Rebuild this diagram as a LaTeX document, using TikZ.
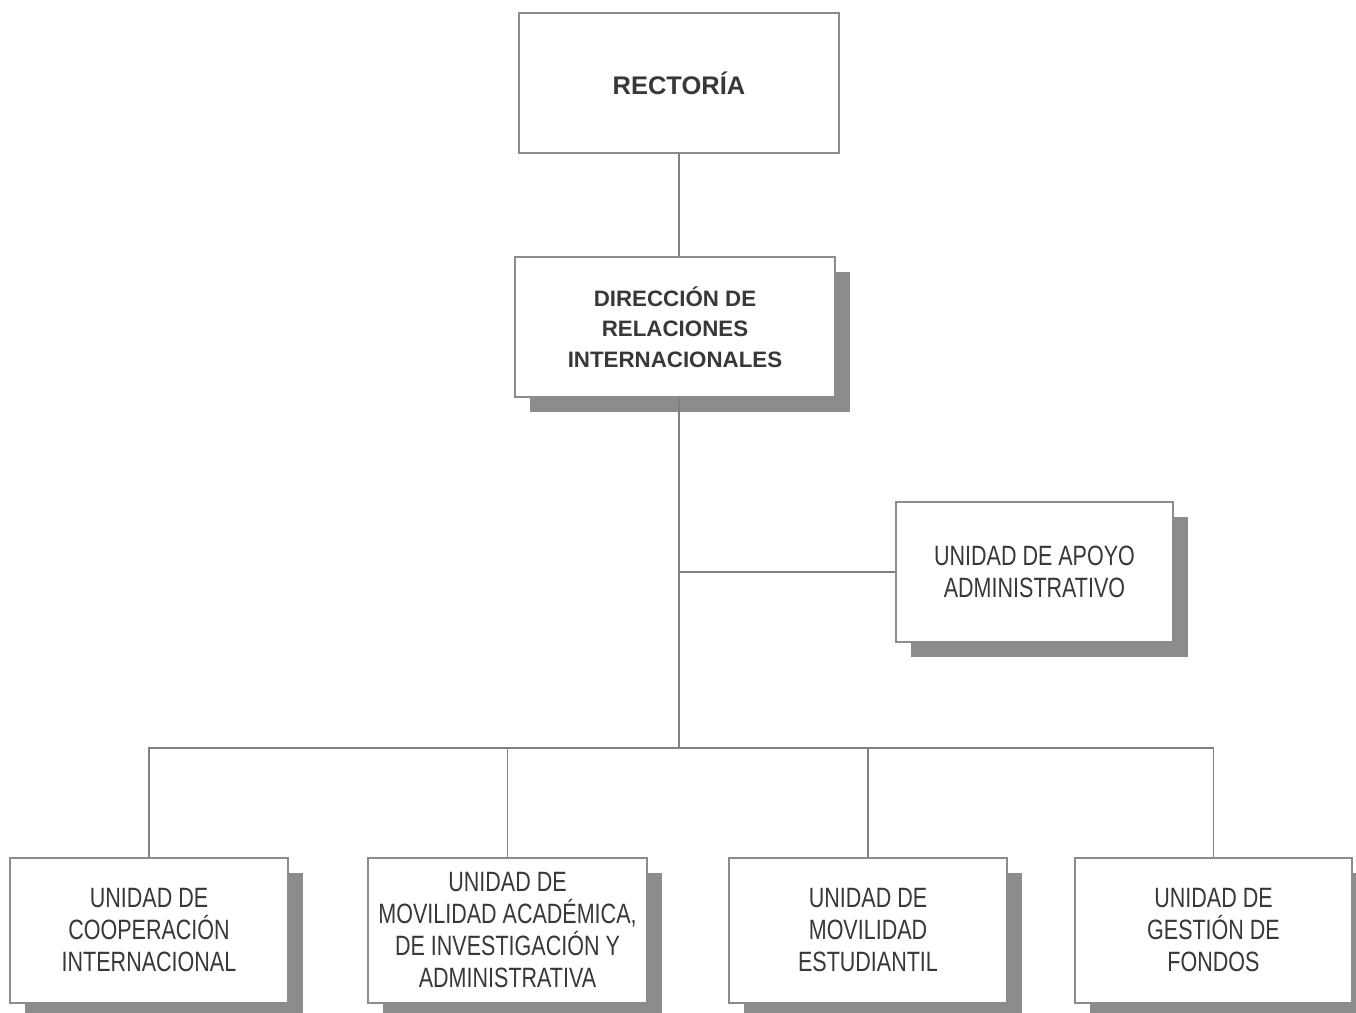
\documentclass[tikz,border=0pt]{standalone}
\usepackage{fontspec}
\setmainfont{Liberation Sans}
\newfontfamily\narrowfont[FakeStretch=0.77]{Liberation Sans}
\usetikzlibrary{shadows}

\tikzset{
  unitbox/.style={draw=black!45, line width=0.6pt, fill=white, align=center,
    text=black!78, inner sep=0pt},
  shadowbox/.style={unitbox, drop shadow={shadow xshift=0.3cm, shadow yshift=-0.3cm,
    fill=black!45, opacity=1}},
  smalltext/.style={font=\narrowfont\fontsize{15.9}{18.2}\selectfont},
  link/.style={draw=black!50, line width=0.7pt}
}

\begin{document}
\begin{tikzpicture}
  \useasboundingbox (0,0) rectangle (27.12,20.26);

  % Top boxes
  \node[unitbox, minimum width=6.4cm, minimum height=2.8cm,
    font=\fontsize{14.5}{17}\selectfont\bfseries] (rector) at (13.58,18.6) {RECTORÍA};
  \node[shadowbox, minimum width=6.4cm, minimum height=2.8cm,
    font=\fontsize{12.7}{17.4}\selectfont\bfseries] (direc) at (13.5,13.72)
    {DIRECCIÓN DE\\RELACIONES\\INTERNACIONALES};

  % Staff unit
  \node[shadowbox, smalltext, minimum width=5.54cm, minimum height=2.8cm] (apoyo) at (20.69,8.82)
    {UNIDAD DE APOYO\\ADMINISTRATIVO};

  % Bottom row
  \node[shadowbox, smalltext, minimum width=5.56cm, minimum height=2.9cm] (coop) at (2.98,1.65)
    {UNIDAD DE\\COOPERACIÓN\\INTERNACIONAL};
  \node[shadowbox, smalltext, minimum width=5.58cm, minimum height=2.9cm] (movacad) at (10.15,1.65)
    {UNIDAD DE\\MOVILIDAD ACADÉMICA,\\DE INVESTIGACIÓN Y\\ADMINISTRATIVA};
  \node[shadowbox, smalltext, minimum width=5.56cm, minimum height=2.9cm] (movest) at (17.36,1.65)
    {UNIDAD DE\\MOVILIDAD\\ESTUDIANTIL};
  \node[shadowbox, smalltext, minimum width=5.54cm, minimum height=2.9cm] (fondos) at (24.27,1.65)
    {UNIDAD DE\\GESTIÓN DE\\FONDOS};

  % Connectors
  \coordinate (hub) at (13.6,5.3);
  \path[link] (rector.south) -- (rector.south |- direc.north);
  \path[link] (rector.south |- direc.south) -- (rector.south |- hub);
  \path[link] (rector.south |- apoyo.west) -- (apoyo.west);
  \path[link] (coop.north) |- (hub) -| (fondos.north);
  \path[link] (movacad.north) -- (movacad.north |- hub);
  \path[link] (movest.north) -- (movest.north |- hub);
\end{tikzpicture}
\end{document}
